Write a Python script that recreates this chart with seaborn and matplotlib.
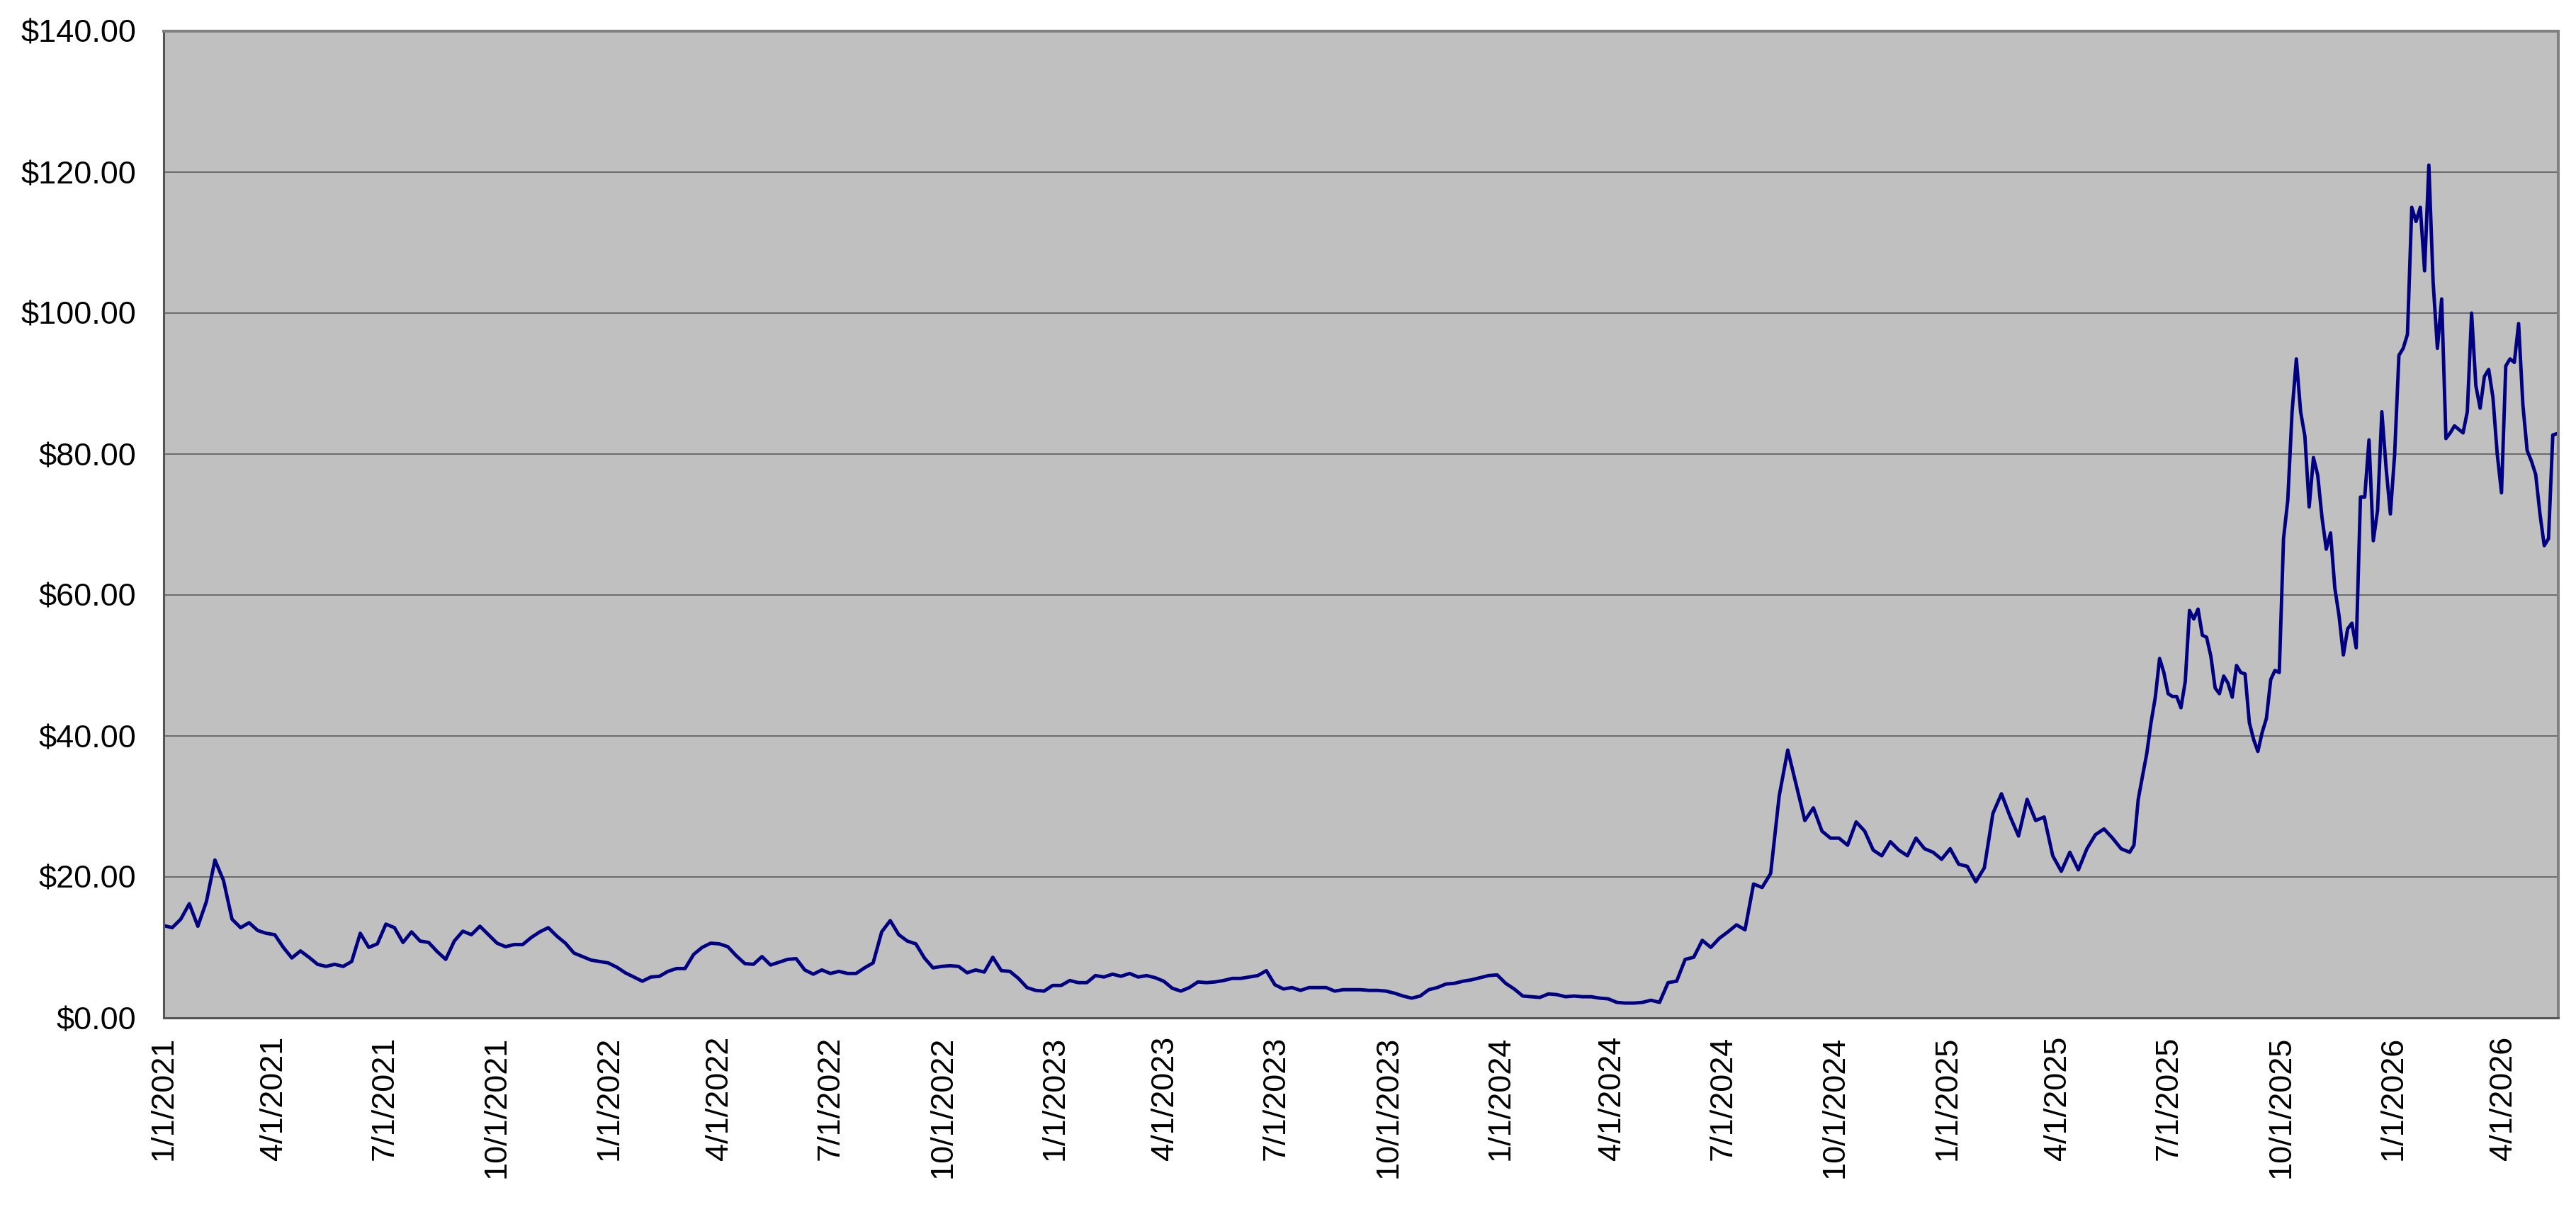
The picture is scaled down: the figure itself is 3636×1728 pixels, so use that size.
import pandas as pd
import numpy as np
import matplotlib
matplotlib.use("Agg")
import matplotlib.pyplot as plt
import matplotlib.ticker as mticker
import seaborn as sns

# ---- data (weekly closes 2021-01-01 .. 2025-05-23) ----
weekly_start = "2021-01-01"
weekly_close = [
    13.1, 12.8, 14.0, 16.2, 13.0, 16.5, 22.4, 19.5, 14.0, 12.8,
    13.5, 12.4, 12.0, 11.8, 10.0, 8.5, 9.5, 8.6, 7.6, 7.3,
    7.6, 7.3, 8.0, 12.0, 10.0, 10.5, 13.3, 12.8, 10.7, 12.2,
    10.9, 10.7, 9.4, 8.3, 10.9, 12.3, 11.8, 13.0, 11.8, 10.6,
    10.1, 10.4, 10.4, 11.4, 12.2, 12.8, 11.6, 10.6, 9.2, 8.7,
    8.2, 8.0, 7.8, 7.2, 6.4, 5.8, 5.2, 5.8, 5.9, 6.6,
    7.0, 7.0, 9.0, 10.0, 10.6, 10.5, 10.1, 8.8, 7.7, 7.6,
    8.7, 7.5, 7.9, 8.3, 8.4, 6.8, 6.2, 6.8, 6.3, 6.6,
    6.3, 6.3, 7.1, 7.8, 12.2, 13.8, 11.8, 10.9, 10.5, 8.5,
    7.1, 7.3, 7.4, 7.3, 6.4, 6.8, 6.5, 8.6, 6.7, 6.6,
    5.6, 4.3, 3.9, 3.8, 4.6, 4.6, 5.3, 5.0, 5.0, 6.0,
    5.8, 6.2, 5.9, 6.3, 5.8, 6.0, 5.7, 5.2, 4.2, 3.8,
    4.3, 5.1, 5.0, 5.1, 5.3, 5.6, 5.6, 5.8, 6.0, 6.7,
    4.7, 4.1, 4.3, 3.9, 4.3, 4.3, 4.3, 3.8, 4.0, 4.0,
    4.0, 3.9, 3.9, 3.8, 3.5, 3.1, 2.8, 3.1, 4.0, 4.3,
    4.8, 4.9, 5.2, 5.4, 5.7, 6.0, 6.1, 4.9, 4.1, 3.1,
    3.0, 2.9, 3.4, 3.3, 3.0, 3.1, 3.0, 3.0, 2.8, 2.7,
    2.2, 2.1, 2.1, 2.2, 2.5, 2.2, 5.0, 5.2, 8.3, 8.6,
    11.0, 10.0, 11.3, 12.2, 13.2, 12.5, 19.0, 18.5, 20.5, 31.5,
    38.0, 33.0, 28.0, 29.8, 26.5, 25.5, 25.5, 24.5, 27.8, 26.5,
    23.8, 23.0, 25.0, 23.8, 23.0, 25.5, 24.0, 23.5, 22.5, 24.0,
    21.8, 21.5, 19.3, 21.3, 29.0, 31.8, 28.6, 25.8, 31.0, 28.0,
    28.5, 23.0, 20.8, 23.5, 21.0, 24.0, 26.0, 26.8, 25.5, 24.0,
]

# ---- data (half-weekly closes 2025-05-30 .. 2026-05-14) ----
halfweekly_start = "2025-05-30"
halfweekly_close = [
    23.5, 24.5, 31.0, 34.3, 37.5, 41.9, 45.5, 51.0, 49.0, 46.0,
    45.6, 45.6, 44.0, 47.7, 57.8, 56.6, 58.0, 54.3, 54.0, 51.3,
    46.8, 46.0, 48.5, 47.5, 45.5, 50.0, 49.0, 48.8, 41.9, 39.5,
    37.8, 40.5, 42.5, 48.0, 49.3, 49.0, 68.0, 73.5, 86.0, 93.5,
    86.0, 82.5, 72.5, 79.5, 77.0, 71.0, 66.5, 68.8, 61.0, 57.0,
    51.5, 55.2, 56.0, 52.5, 73.9, 73.9, 82.0, 67.7, 72.0, 86.0,
    78.0, 71.5, 80.0, 94.0, 95.0, 97.0, 115.0, 113.0, 115.0, 106.0,
    121.0, 104.4, 95.0, 102.0, 82.2, 83.0, 84.0, 83.5, 83.0, 86.0,
    100.0, 89.7, 86.5, 91.0, 92.0, 88.0, 80.0, 74.5, 92.5, 93.5,
    93.0, 98.5, 87.0, 80.5, 79.0, 77.1, 71.5, 67.0, 68.0, 82.7,
    82.9,
]

y_ticks = [0, 20, 40, 60, 80, 100, 120, 140]
x_tick_dates = pd.date_range("2021-01-01", "2026-04-01", freq="QS")

df = pd.concat([
    pd.DataFrame({"date": pd.date_range(weekly_start, periods=len(weekly_close), freq="7D"),
                  "price": weekly_close}),
    pd.DataFrame({"date": pd.date_range(halfweekly_start, periods=len(halfweekly_close), freq="84h"),
                  "price": halfweekly_close}),
], ignore_index=True)

sns.set_style("white")
plt.rcParams["font.family"] = ["Liberation Sans", "DejaVu Sans"]

W, H = 3636, 1728
fig = plt.figure(figsize=(W / 100, H / 100), dpi=100)
left, right, top, bottom = 231, 3611, 44, 1437
ax = fig.add_axes([left / W, 1 - bottom / H, (right - left) / W, (bottom - top) / H])
ax.set_facecolor("#C0C0C0")

sns.lineplot(data=df, x="date", y="price", ax=ax, color="#000080",
             linewidth=3.5, estimator=None, legend=False)

ax.set_ylim(0, 140)
ax.set_yticks(y_ticks)
ax.yaxis.set_major_formatter(mticker.FuncFormatter(lambda v, p: f"${v:,.2f}"))
ax.set_xlim(pd.Timestamp("2021-01-01"), pd.Timestamp("2026-05-16"))
ax.set_xticks(x_tick_dates)
ax.set_xticklabels([f"{d.month}/{d.day}/{d.year}" for d in x_tick_dates], rotation=90)

ax.yaxis.grid(True, color="#646464", linewidth=1.3)
ax.xaxis.grid(False)
ax.set_axisbelow(True)

ax.set_xlabel("")
ax.set_ylabel("")

ax.tick_params(axis="both", direction="out", length=10, width=1.1, color="#404040",
               labelsize=32.5, labelcolor="black")
ax.tick_params(axis="y", pad=18)
ax.tick_params(axis="x", pad=8.5)

for s in ["top", "right"]:
    ax.spines[s].set_color("#808080")
    ax.spines[s].set_linewidth(2.9)
for s in ["left", "bottom"]:
    ax.spines[s].set_color("#555555")
    ax.spines[s].set_linewidth(2.2)
    ax.spines[s].set_visible(True)

fig.savefig("out.png", dpi=100, facecolor="white")
